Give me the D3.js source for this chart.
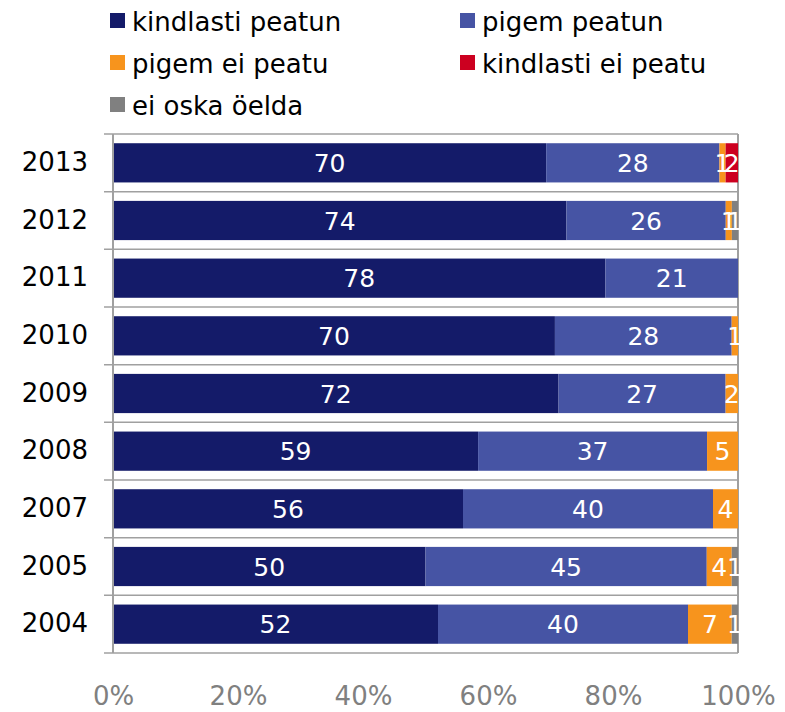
<!DOCTYPE html>
<html>
<head>
<meta charset="utf-8">
<script src="https://cdn.jsdelivr.net/npm/d3@7"></script>
<style>
  html, body { margin: 0; padding: 0; background: #fff; }
  svg { display: block; font-family: "DejaVu Sans", Verdana, sans-serif; }
</style>
</head>
<body>
<svg id="chart" width="785" height="712"></svg>
<script>
const years = ["2013", "2012", "2011", "2010", "2009", "2008", "2007", "2005", "2004"];
const seriesNames = ["kindlasti peatun", "pigem peatun", "pigem ei peatu", "kindlasti ei peatu", "ei oska öelda"];
const kindlastiPeatun   = [70, 74, 78, 70, 72, 59, 56, 50, 52];
const pigemPeatun       = [28, 26, 21, 28, 27, 37, 40, 45, 40];
const pigemEiPeatu      = [1, 1, 0, 1, 2, 5, 4, 4, 7];
const kindlastiEiPeatu  = [2, 0, 0, 0, 0, 0, 0, 0, 0];
const eiOskaOelda       = [0, 1, 0, 0, 0, 0, 0, 1, 1];
const tickLabels = ["0%", "20%", "40%", "60%", "80%", "100%"];
const colors = ["#141b69", "#4654a4", "#f7941d", "#cc0020", "#808080"];

const seriesValues = [kindlastiPeatun, pigemPeatun, pigemEiPeatu, kindlastiEiPeatu, eiOskaOelda];

const rows = years.map((yr, i) => {
  const r = { year: yr };
  seriesNames.forEach((s, k) => { r[s] = seriesValues[k][i]; });
  return r;
});

const svg = d3.select("#chart");
const mLeft = 113, mRight = 738, mTop = 134, mBottom = 653;

const x = d3.scaleLinear().domain([0, 1]).range([mLeft, mRight]);
const y = d3.scaleBand().domain(years).range([mTop, mBottom]).paddingInner(0.32).paddingOuter(0.16);

const stack = d3.stack().keys(seriesNames).offset(d3.stackOffsetExpand);
const stacked = stack(rows);

// horizontal grid lines at category boundaries
const boundaries = d3.range(years.length + 1).map(i => mTop + i * (mBottom - mTop) / years.length);
svg.append("g").selectAll("line").data(boundaries).join("line")
  .attr("x1", mLeft - 9).attr("x2", mRight)
  .attr("y1", d => d).attr("y2", d => d)
  .attr("stroke", "#a0a0a0").attr("stroke-width", 1.5);

// right border
svg.append("line").attr("x1", mRight).attr("x2", mRight).attr("y1", mTop).attr("y2", mBottom)
  .attr("stroke", "#a0a0a0").attr("stroke-width", 2);

// bars
const groups = svg.append("g").selectAll("g").data(stacked).join("g")
  .attr("fill", (d, i) => colors[i]);
groups.selectAll("rect").data(d => d).join("rect")
  .attr("x", d => x(d[0]))
  .attr("width", d => Math.max(0, x(d[1]) - x(d[0])))
  .attr("y", d => y(d.data.year))
  .attr("height", y.bandwidth());

// value labels
const labelG = svg.append("g");
stacked.forEach((s, k) => {
  s.forEach(d => {
    const v = d.data[seriesNames[k]];
    if (v > 0) {
      labelG.append("text")
        .attr("x", (x(d[0]) + x(d[1])) / 2)
        .attr("y", y(d.data.year) + y.bandwidth() / 2)
        .attr("dy", "0.36em")
        .attr("text-anchor", "middle")
        .attr("fill", "#fff")
        .attr("font-size", 25)
        .text(v);
    }
  });
});

// y axis
const yAxis = d3.axisLeft(y).tickSize(0).tickPadding(25);
const yg = svg.append("g").attr("transform", `translate(${mLeft},0)`).call(yAxis);
yg.select(".domain").remove();
yg.selectAll("text").attr("font-size", 26).attr("fill", "#000").attr("font-family", "DejaVu Sans, Verdana, sans-serif");
svg.append("line").attr("x1", mLeft).attr("x2", mLeft).attr("y1", mTop).attr("y2", mBottom)
  .attr("stroke", "#a0a0a0").attr("stroke-width", 2);

// x axis
const xAxis = d3.axisBottom(x).tickValues(d3.range(0, 1.0001, 0.2)).tickFormat((d, i) => tickLabels[i]).tickSize(0).tickPadding(34);
const xg = svg.append("g").attr("transform", `translate(0,${mBottom})`).call(xAxis);
xg.select(".domain").remove();
xg.selectAll("text").attr("font-size", 26).attr("fill", "#808080").attr("font-family", "DejaVu Sans, Verdana, sans-serif");

// legend
const legendPos = [
  [110, 13], [460, 13],
  [110, 55], [460, 55],
  [110, 97]
];
const lg = svg.append("g");
seriesNames.forEach((name, i) => {
  const [lx, ly] = legendPos[i];
  lg.append("rect").attr("x", lx).attr("y", ly).attr("width", 15).attr("height", 15).attr("fill", colors[i]);
  lg.append("text").attr("x", lx + 22).attr("y", ly + 18).attr("font-size", 26).attr("fill", "#000").text(name);
});
</script>
</body>
</html>
